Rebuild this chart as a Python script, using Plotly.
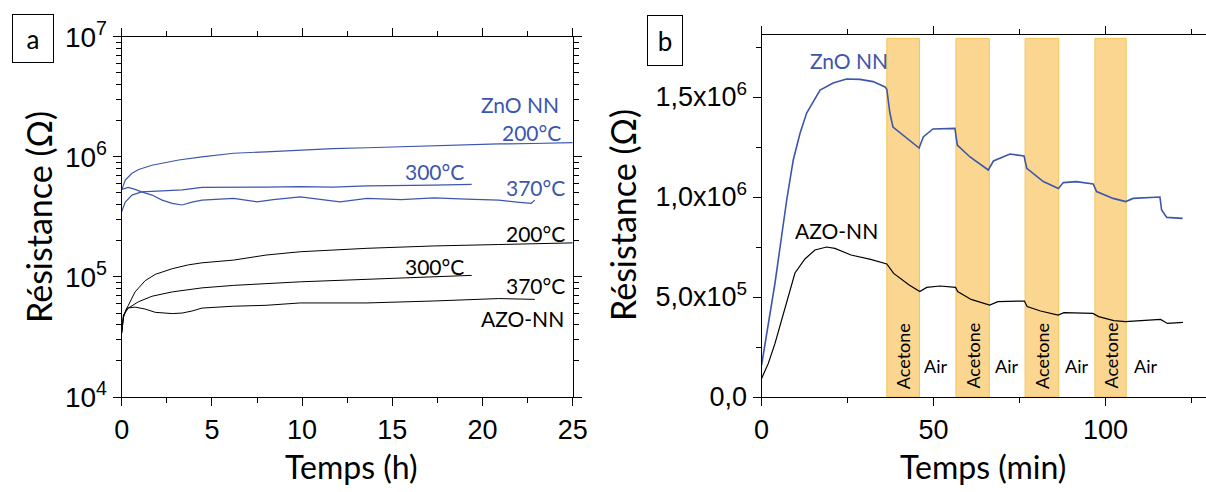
import plotly.graph_objects as go

# ---------------- Panel a data (time in h, resistance in ohm) ----------------
zno200_t = [0, 0.2, 0.57, 0.94, 1.68, 2.42, 3.16, 4.45, 6.2, 8.0, 9.9, 11.7, 13.6, 15.4, 17.3, 19.1, 20.9, 22.8, 25.0]
zno200_r = [5.3e5, 6.4e5, 7.3e5, 7.85e5, 8.5e5, 8.9e5, 9.4e5, 1.0e6, 1.07e6, 1.10e6, 1.14e6, 1.17e6, 1.19e6, 1.21e6, 1.24e6, 1.27e6, 1.28e6, 1.29e6, 1.31e6]

zno300_t = [0, 0.2, 0.57, 1.1, 2.24, 3.35, 4.45, 6.2, 8.0, 9.9, 11.7, 13.6, 15.4, 17.3, 19.4]
zno300_r = [3.5e5, 4.2e5, 4.8e5, 5.1e5, 5.2e5, 5.3e5, 5.56e5, 5.55e5, 5.6e5, 5.65e5, 5.6e5, 5.73e5, 5.75e5, 5.8e5, 5.89e5]

zno370_t = [0, 0.37, 0.74, 1.1, 1.68, 2.24, 2.8, 3.35, 3.9, 4.45, 6.2, 7.5, 8.4, 9.9, 12.1, 13.6, 15.5, 17.3, 19.1, 20.9, 21.9, 22.7, 22.9]
zno370_r = [5.35e5, 5.56e5, 5.35e5, 5.1e5, 4.8e5, 4.36e5, 4.1e5, 3.97e5, 4.2e5, 4.36e5, 4.5e5, 4.22e5, 4.4e5, 4.64e5, 4.22e5, 4.5e5, 4.4e5, 4.55e5, 4.45e5, 4.36e5, 4.2e5, 4.1e5, 4.36e5]

azo200_t = [0, 0.1, 0.37, 0.74, 1.3, 1.86, 2.8, 3.7, 4.45, 6.2, 8.0, 9.9, 13.6, 17.3, 20.9, 25.0]
azo200_r = [3.4e4, 4.8e4, 5.8e4, 7.5e4, 9.3e4, 1.05e5, 1.17e5, 1.26e5, 1.31e5, 1.38e5, 1.52e5, 1.62e5, 1.73e5, 1.81e5, 1.86e5, 1.92e5]

azo300_t = [0, 0.1, 0.37, 0.92, 1.68, 2.8, 4.45, 6.2, 9.9, 13.6, 17.3, 19.4]
azo300_r = [3.5e4, 4.8e4, 5.5e4, 6.2e4, 6.9e4, 7.5e4, 8.1e4, 8.5e4, 9.1e4, 9.6e4, 1.0e5, 1.03e5]

azo370_t = [0, 0.1, 0.28, 0.74, 1.3, 1.86, 2.8, 3.35, 3.9, 4.45, 6.2, 8.0, 9.9, 13.6, 17.3, 20.9, 22.9]
azo370_r = [3.4e4, 4.6e4, 5.5e4, 5.6e4, 5.4e4, 5.07e4, 4.95e4, 5.0e4, 5.2e4, 5.5e4, 5.7e4, 5.8e4, 6.07e4, 6.07e4, 6.3e4, 6.6e4, 6.5e4]

a_xticks = [0, 5, 10, 15, 20, 25]
a_yticks = [1e4, 1e5, 1e6, 1e7]
a_yticktext = ["10<sup>4</sup>", "10<sup>5</sup>", "10<sup>6</sup>", "10<sup>7</sup>"]

# ---------------- Panel b data (time in min, resistance in ohm) ----------------
znob_t = [0, 3.9, 7.3, 9.2, 11.2, 13.1, 17.0, 20.8, 24.7, 28.6, 32.4, 35.9, 36.4, 37.3, 38.2, 41.1, 45.8,
          47.0, 49.8, 56.2, 56.9, 60.6, 65.9, 67.4, 72.2, 76.3, 77.1, 81.9, 86.3, 87.7, 91.5, 96.4, 97.4,
          102.2, 105.9, 108.0, 115.8, 116.3, 117.8, 122.4]
znob_r = [1.6e5, 5.7e5, 9.85e5, 1.185e6, 1.32e6, 1.42e6, 1.535e6, 1.57e6, 1.59e6, 1.588e6, 1.577e6, 1.55e6, 1.539e6, 1.42e6, 1.35e6, 1.31e6, 1.245e6,
          1.30e6, 1.34e6, 1.343e6, 1.26e6, 1.20e6, 1.135e6, 1.18e6, 1.215e6, 1.205e6, 1.143e6, 1.077e6, 1.043e6, 1.072e6, 1.077e6, 1.065e6, 1.027e6,
          0.993e6, 0.977e6, 0.993e6, 1.0e6, 0.935e6, 0.898e6, 0.893e6]

azob_t = [0, 1.95, 3.9, 5.8, 7.8, 9.7, 12.6, 15.5, 18.9, 21.3, 26.0, 31.7, 36.4, 38.4, 42.9, 46.0, 48.0, 51.9, 56.4,
          57.0, 60.9, 66.3, 68.7, 76.4, 77.2, 81.1, 86.2, 87.9, 96.3, 98.0, 102.4, 105.8, 110.3, 116.0, 118.0, 122.5]
azob_r = [0.93e5, 1.68e5, 2.68e5, 3.85e5, 5.0e5, 6.2e5, 6.9e5, 7.35e5, 7.5e5, 7.43e5, 7.1e5, 6.88e5, 6.65e5, 6.18e5, 5.6e5, 5.27e5, 5.48e5, 5.55e5, 5.48e5,
          5.27e5, 4.88e5, 4.6e5, 4.77e5, 4.8e5, 4.52e5, 4.3e5, 4.1e5, 4.22e5, 4.18e5, 4.02e5, 3.82e5, 3.77e5, 3.82e5, 3.88e5, 3.68e5, 3.73e5]

acetone_start = [36.4, 56.5, 76.6, 96.9]
acetone_end = [45.9, 66.2, 86.4, 106.0]
air_center = [50.5, 71.3, 91.6, 111.5]
band_top = 1.793e6

b_yticks = [0, 5e5, 1e6, 1.5e6]
b_yticktext = ["0,0", "5,0x10<sup>5</sup>", "1,0x10<sup>6</sup>", "1,5x10<sup>6</sup>"]
b_xticks = [0, 50, 100]

BLUE = "#3d56ad"
TXT_FONT = "Lato"
TICK_FONT = "Liberation Sans"
W, H = 1206, 492


def px(x):
    return x / W


def py(y):
    return 1 - y / H


fig = go.Figure()

for t, r in [(zno200_t, zno200_r), (zno300_t, zno300_r), (zno370_t, zno370_r)]:
    fig.add_trace(go.Scatter(x=t, y=r, mode="lines", line=dict(color=BLUE, width=1.2),
                             xaxis="x", yaxis="y", showlegend=False))
for t, r in [(azo200_t, azo200_r), (azo300_t, azo300_r), (azo370_t, azo370_r)]:
    fig.add_trace(go.Scatter(x=t, y=r, mode="lines", line=dict(color="black", width=1.0),
                             xaxis="x", yaxis="y", showlegend=False))

fig.add_trace(go.Scatter(x=znob_t, y=znob_r, mode="lines", line=dict(color=BLUE, width=1.6),
                         xaxis="x2", yaxis="y2", showlegend=False))
fig.add_trace(go.Scatter(x=azob_t, y=azob_r, mode="lines", line=dict(color="black", width=1.2),
                         xaxis="x2", yaxis="y2", showlegend=False))

shapes = []
for s, e in zip(acetone_start, acetone_end):
    shapes.append(dict(type="rect", xref="x2", yref="y2", x0=s, x1=e, y0=0, y1=band_top,
                       fillcolor="#fbd690", line=dict(color="#f4c55c", width=1), layer="below"))

axis_common = dict(showline=True, linecolor="black", linewidth=1.2, ticks="outside",
                   tickcolor="black", tickwidth=1.2, showgrid=False, zeroline=False,
                   automargin=False)

fig.update_layout(
    width=W, height=H, margin=dict(l=0, r=0, t=0, b=0, pad=0, autoexpand=False),
    paper_bgcolor="white", plot_bgcolor="white",
    shapes=shapes,
    xaxis=dict(domain=[121.7 / W, 572.7 / W], anchor="y", range=[0, 25],
               tickmode="array", tickvals=a_xticks, ticklen=8, mirror="ticks",
               minor=dict(dtick=2.5, ticks="outside", ticklen=5, tickcolor="black"),
               tickfont=dict(family=TICK_FONT, size=27, color="black"), **axis_common),
    yaxis=dict(domain=[1 - 397 / H, 1 - 36.7 / H], anchor="x", type="log", range=[4, 7],
               tickmode="array", tickvals=a_yticks, ticktext=a_yticktext, ticklen=8, mirror="ticks",
               minor=dict(dtick="D1", ticks="outside", ticklen=5, tickcolor="black"),
               tickfont=dict(family=TICK_FONT, size=28, color="black"), **axis_common),
    xaxis2=dict(domain=[761.6 / W, 1.0], anchor="y2", range=[0, 129.2],
                tickmode="array", tickvals=b_xticks, ticklen=8, mirror="ticks",
                minor=dict(dtick=25, ticks="outside", ticklen=5, tickcolor="black"),
                tickfont=dict(family=TICK_FONT, size=27, color="black"), **axis_common),
    yaxis2=dict(domain=[1 - 397 / H, 1 - 35 / H], anchor="x2", range=[0, 1.81e6],
                tickmode="array", tickvals=b_yticks, ticktext=b_yticktext, ticklen=8, mirror=False,
                minor=dict(dtick=2.5e5, ticks="outside", ticklen=5, tickcolor="black"),
                tickfont=dict(family=TICK_FONT, size=27, color="black"), **axis_common),
)

ann = []


def label(text, x, y, size, color="black", xanchor="center", angle=0, **kw):
    ann.append(dict(text=text, x=px(x), y=py(y), xref="paper", yref="paper", showarrow=False,
                    xanchor=xanchor, yanchor="middle", textangle=angle,
                    font=dict(family=TXT_FONT, size=size, color=color), **kw))


# axis titles
label("Résistance (Ω)", 38, 217, 34, angle=-90)
label("Temps (h)", 351, 466, 32)
label("Résistance (Ω)", 622, 215, 34, angle=-90)
label("Temps (min)", 983, 466, 32)

# panel letters
label("a", 32.5, 39, 26, bordercolor="black", borderwidth=1, borderpad=0, width=40, height=47)
label("b", 665, 40, 26, bordercolor="black", borderwidth=1, borderpad=0, width=34, height=49)

# panel a curve labels
label("ZnO NN", 561, 104, 21, BLUE, xanchor="right")
label("200°C", 563, 133, 21, BLUE, xanchor="right")
label("300°C", 466, 171, 21, BLUE, xanchor="right")
label("370°C", 567, 188, 21, BLUE, xanchor="right")
label("200°C", 567, 233, 21, xanchor="right")
label("300°C", 466, 266, 21, xanchor="right")
label("370°C", 567, 285, 21, xanchor="right")
label("AZO-NN", 566, 318, 21, xanchor="right")

# panel b curve labels
label("ZnO NN", 849, 60, 21, BLUE)
label("AZO-NN", 836, 230, 21)

for s, e in zip(acetone_start, acetone_end):
    ann.append(dict(text="Acetone", x=(s + e) / 2, y=2.05e5, xref="x2", yref="y2", showarrow=False,
                    textangle=-90, xanchor="center", yanchor="middle",
                    font=dict(family=TXT_FONT, size=18, color="black")))
for c in air_center:
    ann.append(dict(text="Air", x=c, y=1.55e5, xref="x2", yref="y2", showarrow=False,
                    xanchor="center", yanchor="middle",
                    font=dict(family=TXT_FONT, size=18, color="black")))

fig.update_layout(annotations=ann)

fig.write_html("out.html", config={"displayModeBar": False},
               post_script="document.body.style.margin='0';")
